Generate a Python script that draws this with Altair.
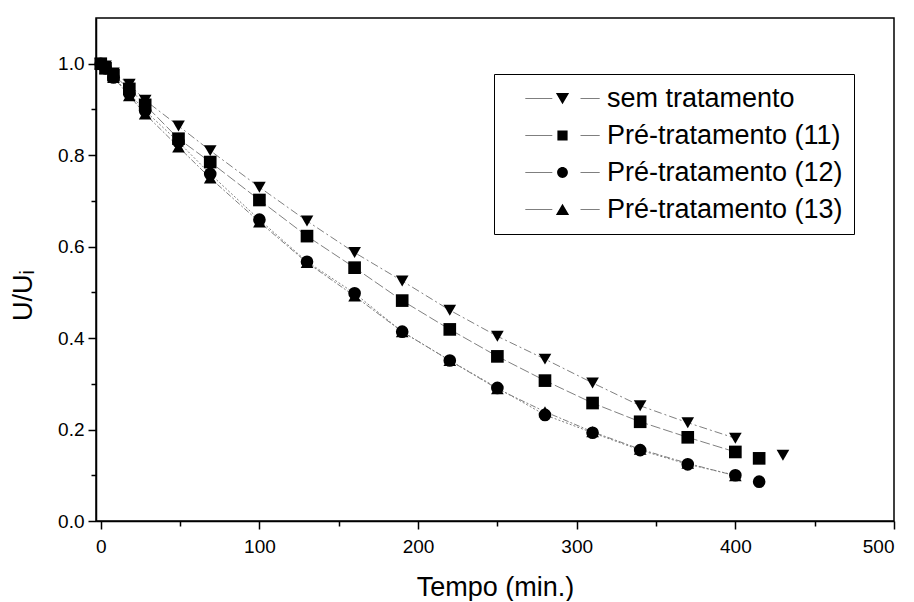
import altair as alt
import pandas as pd

# ---------------- data ----------------
series_names = ["sem tratamento", "Pré-tratamento (11)", "Pré-tratamento (12)", "Pré-tratamento (13)"]
tempo = [0, 3, 8, 18, 28, 49, 69, 100, 130, 160, 190, 220, 250, 280, 310, 340, 370, 400]
sem_tratamento = [1.0, 0.995, 0.98, 0.955, 0.92, 0.864, 0.81, 0.73, 0.656, 0.587, 0.525, 0.461, 0.404, 0.354, 0.302, 0.252, 0.215, 0.181]
pre_11 = [1.0, 0.99, 0.975, 0.945, 0.91, 0.836, 0.785, 0.702, 0.623, 0.554, 0.482, 0.419, 0.360, 0.307, 0.258, 0.217, 0.183, 0.151]
pre_12 = [1.0, 0.99, 0.97, 0.935, 0.897, 0.829, 0.759, 0.659, 0.567, 0.498, 0.414, 0.351, 0.291, 0.232, 0.193, 0.155, 0.124, 0.100]
pre_13 = [1.0, 0.99, 0.97, 0.93, 0.89, 0.818, 0.75, 0.654, 0.565, 0.492, 0.414, 0.351, 0.289, 0.239, 0.195, 0.157, 0.126, 0.099]

# last readings, drawn as markers only (not joined by the lines)
final_series = ["sem tratamento", "Pré-tratamento (11)", "Pré-tratamento (12)"]
final_tempo = [430, 415, 415]
final_valor = [0.144, 0.137, 0.086]

x_ticks = [0, 50, 100, 150, 200, 250, 300, 350, 400, 450, 500]
y_ticks = [0.0, 0.1, 0.2, 0.3, 0.4, 0.5, 0.6, 0.7, 0.8, 0.9, 1.0]

# ---------------- tables ----------------
rows = []
for name, vals in zip(series_names, [sem_tratamento, pre_11, pre_12, pre_13]):
    for t, v in zip(tempo, vals):
        rows.append({"serie": name, "tempo": t, "valor": v})
df_lines = pd.DataFrame(rows)
df_final = pd.DataFrame({"serie": final_series, "tempo": final_tempo, "valor": final_valor})
df_points = pd.concat([df_lines, df_final], ignore_index=True)
df_legend = pd.DataFrame({"serie": series_names})

# ---------------- styles ----------------
FONT = "Liberation Sans"
marker_shapes = ["triangle-down", "square", "circle", "triangle-up"]
dash_styles = [[8, 3, 2, 3], [10, 3], [2, 2], [6, 2, 2, 2]]

seg = "M-6.2,-0.05H-1.7V0.05H-6.2Z M3,-0.05H6.2V0.05H3Z "
legend_paths = [
    seg + "M-1.1,-0.9L1.1,-0.9L0,0.95Z",
    seg + "M-0.85,-0.85H0.85V0.85H-0.85Z",
    seg + "M-0.9,0A0.9,0.9,0,1,0,0.9,0A0.9,0.9,0,1,0,-0.9,0Z",
    seg + "M-1.1,0.9L1.1,0.9L0,-0.95Z",
]

x_axis = alt.Axis(
    values=x_ticks,
    labelExpr="datum.value % 100 === 0 ? datum.label : ''",
    tickSize={"condition": {"test": "datum.value % 100 === 0", "value": 8}, "value": 5},
    title="Tempo (min.)",
    titlePadding=18,
    labelFontSize=19,
    titleFontSize=27,
    labelPadding=8,
)
y_axis = alt.Axis(
    values=y_ticks,
    labelExpr="round(datum.value * 10) % 2 === 0 ? format(datum.value, '.1f') : ''",
    tickSize={"condition": {"test": "round(datum.value * 10) % 2 === 0", "value": 8}, "value": 5},
    title="U/Uᵢ",
    titleFontSize=27,
    labelFontSize=19,
    labelPadding=4,
    titleAngle=270,
    titleAlign="center",
    titleBaseline="middle",
    titleX=-73,
    titleY=277,
)

x_enc = alt.X("tempo:Q", scale=alt.Scale(domain=[-3, 500], nice=False, zero=False), axis=x_axis)
y_enc = alt.Y("valor:Q", scale=alt.Scale(domain=[0, 1.1], nice=False), axis=y_axis)

lines = alt.Chart(df_lines).mark_line(color="#808080", strokeWidth=1).encode(
    x=x_enc,
    y=y_enc,
    strokeDash=alt.StrokeDash("serie:N", scale=alt.Scale(domain=series_names, range=dash_styles), legend=None),
    detail="serie:N",
    order="tempo:Q",
)

points = alt.Chart(df_points).mark_point(filled=True, color="black", size=160, opacity=1).encode(
    x=x_enc,
    y=y_enc,
    shape=alt.Shape("serie:N", scale=alt.Scale(domain=series_names, range=marker_shapes), legend=None),
)

legend_layer = alt.Chart(df_legend).mark_point(filled=True, color="black", opacity=0).encode(
    shape=alt.Shape(
        "serie:N",
        scale=alt.Scale(domain=series_names, range=legend_paths),
        legend=alt.Legend(
            title=None,
            orient="none",
            legendX=398,
            legendY=56,
            strokeColor="black",
            padding=11,
            symbolSize=144,
            symbolOffset=44,
            labelOffset=31,
            labelFontSize=27,
            labelFont=FONT,
            labelColor="black",
            labelLimit=400,
            rowPadding=9,
            symbolOpacity=1,
            symbolFillColor="black",
            symbolStrokeColor="black",
            symbolStrokeWidth=0,
        ),
    ),
)

chart = alt.layer(lines, points, legend_layer).resolve_scale(
    shape="independent"
).properties(
    width=798,
    height=503,
    autosize=alt.AutoSizeParams(type="none"),
    padding={"left": 88, "top": 10, "right": 12, "bottom": 80},
    background="white",
).configure_view(
    stroke="black", strokeWidth=1.5
).configure_axis(
    grid=False,
    domainColor="black",
    domainWidth=1.5,
    tickColor="black",
    tickWidth=1.5,
    labelColor="black",
    titleColor="black",
    labelFont=FONT,
    titleFont=FONT,
    titleFontWeight="normal",
)

chart.save("out.html", embed_options={"renderer": "svg", "actions": False})
